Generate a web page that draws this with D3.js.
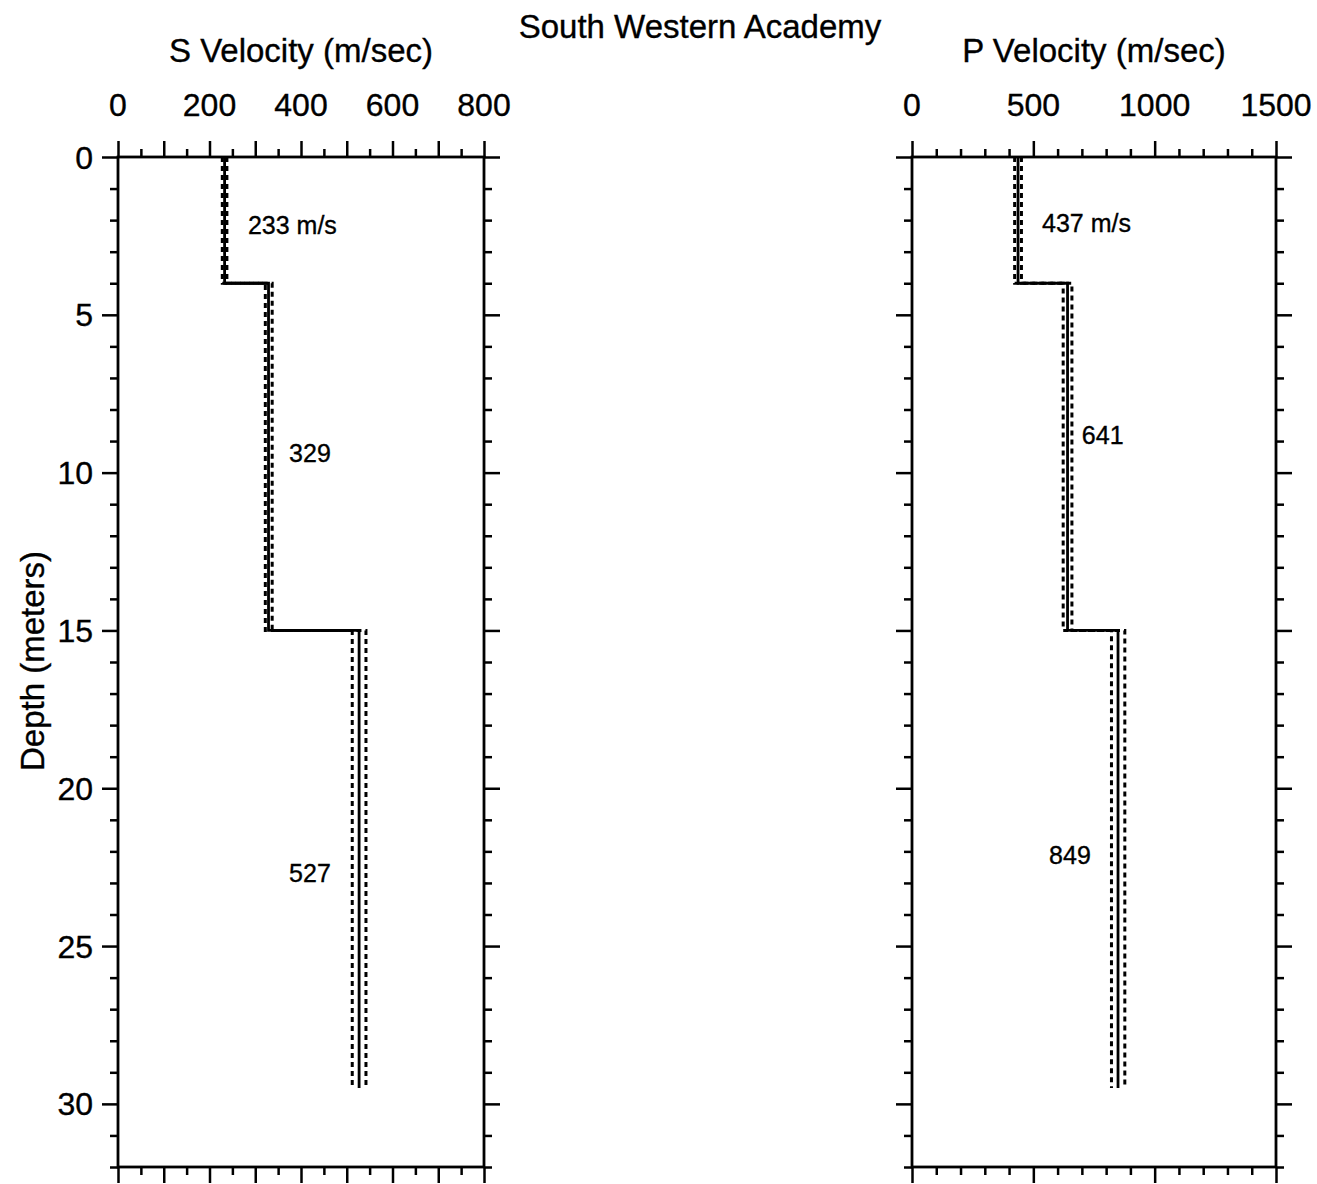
<!DOCTYPE html>
<html>
<head>
<meta charset="utf-8">
<script src="https://cdn.jsdelivr.net/npm/d3@7"></script>
<style>
  html, body { margin: 0; padding: 0; background: #fff; }
  svg { display: block; font-family: "Liberation Sans", Arial, Helvetica, sans-serif; }
  svg text { fill: #000; stroke: #000; stroke-width: 0.35px; }
</style>
</head>
<body>
<svg id="chart" width="1317" height="1184"></svg>
<script>
// ---------- data ----------
const title = "South Western Academy";
const layerTop = [0, 4, 15];
const layerBottom = [4, 15, 29.5];
const sVelocity = [233, 329, 527];
const sLower = [228, 322, 512];
const sUpper = [238, 337, 542];
const pVelocity = [437, 641, 849];
const pLower = [423, 623, 822];
const pUpper = [451, 659, 877];
const sLabels = ["233 m/s", "329", "527"];
const pLabels = ["437 m/s", "641", "849"];
// label anchors in data units (velocity, depth)
const sLabelVel = [284, 374, 374];
const sLabelDepth = [2.15, 9.38, 22.69];
const pLabelVel = [536, 700, 565];
const pLabelDepth = [2.09, 8.81, 22.12];
const sTickLabels = [0, 200, 400, 600, 800];
const pTickLabels = [0, 500, 1000, 1500];
const depthTickLabels = [0, 5, 10, 15, 20, 25, 30];

// ---------- layout ----------
const svg = d3.select("#chart");
const plotTop = 157, plotBottom = 1167;
const y = d3.scaleLinear().domain([0, 32]).range([plotTop, plotBottom]);
const panels = [
  { name: "S Velocity (m/sec)", x0: 118, x1: 484, max: 800, minor: 50, major: 100,
    labels: sTickLabels, vel: sVelocity, lo: sLower, hi: sUpper,
    ann: sLabels, annV: sLabelVel, annD: sLabelDepth, depthLabels: true },
  { name: "P Velocity (m/sec)", x0: 912, x1: 1276, max: 1500, minor: 100, major: 500,
    labels: pTickLabels, vel: pVelocity, lo: pLower, hi: pUpper,
    ann: pLabels, annV: pLabelVel, annD: pLabelDepth, depthLabels: false }
];
const stroke = "#000";

svg.append("text")
  .attr("x", 700).attr("y", 38)
  .attr("text-anchor", "middle")
  .attr("font-size", 33)
  .text(title);

panels.forEach(p => {
  const x = d3.scaleLinear().domain([0, p.max]).range([p.x0, p.x1]);
  const g = svg.append("g");

  const minorX = d3.range(0, p.max + 0.001, p.minor).filter(v => Math.abs(v / p.major - Math.round(v / p.major)) > 1e-6);
  const majorX = d3.range(0, p.max + 0.001, p.major);
  const minorY = d3.range(0, 32.001, 1).filter(v => v % 5 !== 0);
  const majorY = d3.range(0, 32.001, 5);

  function styleAxis(sel) {
    sel.select(".domain").remove();
    sel.selectAll(".tick line").attr("stroke", stroke).attr("stroke-width", 2.5);
    sel.selectAll(".tick text").remove();
  }

  g.append("g").attr("transform", `translate(0,${plotTop})`)
    .call(d3.axisTop(x).tickValues(majorX).tickSize(16)).call(styleAxis);
  g.append("g").attr("transform", `translate(0,${plotTop})`)
    .call(d3.axisTop(x).tickValues(minorX).tickSize(8)).call(styleAxis);
  g.append("g").attr("transform", `translate(0,${plotBottom})`)
    .call(d3.axisBottom(x).tickValues(majorX).tickSize(16)).call(styleAxis);
  g.append("g").attr("transform", `translate(0,${plotBottom})`)
    .call(d3.axisBottom(x).tickValues(minorX).tickSize(8)).call(styleAxis);
  g.append("g").attr("transform", `translate(${p.x0},0)`)
    .call(d3.axisLeft(y).tickValues(majorY).tickSize(16)).call(styleAxis);
  g.append("g").attr("transform", `translate(${p.x0},0)`)
    .call(d3.axisLeft(y).tickValues(minorY).tickSize(8)).call(styleAxis);
  g.append("g").attr("transform", `translate(${p.x1},0)`)
    .call(d3.axisRight(y).tickValues(majorY).tickSize(16)).call(styleAxis);
  g.append("g").attr("transform", `translate(${p.x1},0)`)
    .call(d3.axisRight(y).tickValues(minorY).tickSize(8)).call(styleAxis);

  g.append("rect")
    .attr("x", p.x0).attr("y", plotTop)
    .attr("width", p.x1 - p.x0).attr("height", plotBottom - plotTop)
    .attr("fill", "none").attr("stroke", stroke).attr("stroke-width", 2.8);

  g.selectAll("text.tl").data(p.labels).enter().append("text")
    .attr("class", "tl")
    .attr("x", d => x(d)).attr("y", 116)
    .attr("text-anchor", "middle")
    .attr("font-size", 32)
    .text(d => d);

  g.append("text")
    .attr("x", (p.x0 + p.x1) / 2).attr("y", 62)
    .attr("text-anchor", "middle")
    .attr("font-size", 33)
    .text(p.name);

  if (p.depthLabels) {
    g.selectAll("text.dl").data(depthTickLabels).enter().append("text")
      .attr("class", "dl")
      .attr("x", 93).attr("y", d => y(d)).attr("dy", "0.36em")
      .attr("text-anchor", "end")
      .attr("font-size", 32)
      .text(d => d);
    g.append("text")
      .attr("transform", `translate(44,${(547 + 775) / 2}) rotate(-90)`)
      .attr("text-anchor", "middle")
      .attr("font-size", 33)
      .text("Depth (meters)");
  }

  function stepPts(vals) {
    const pts = [];
    vals.forEach((v, i) => { pts.push([v, layerTop[i]]); pts.push([v, layerBottom[i]]); });
    return pts;
  }
  const line = d3.line().x(d => x(d[0])).y(d => y(d[1]));

  [p.lo, p.hi].forEach(vals => {
    g.append("path").datum(stepPts(vals))
      .attr("d", line).attr("fill", "none")
      .attr("stroke", stroke).attr("stroke-width", 3)
      .attr("stroke-dasharray", "5,4");
  });
  g.append("path").datum(stepPts(p.vel))
    .attr("d", line).attr("fill", "none")
    .attr("stroke", stroke).attr("stroke-width", 2.8);

  g.selectAll("text.ann").data(p.ann).enter().append("text")
    .attr("class", "ann")
    .attr("x", (d, i) => x(p.annV[i]))
    .attr("y", (d, i) => y(p.annD[i])).attr("dy", "0.36em")
    .attr("font-size", 25)
    .text(d => d);
});
</script>
</body>
</html>
